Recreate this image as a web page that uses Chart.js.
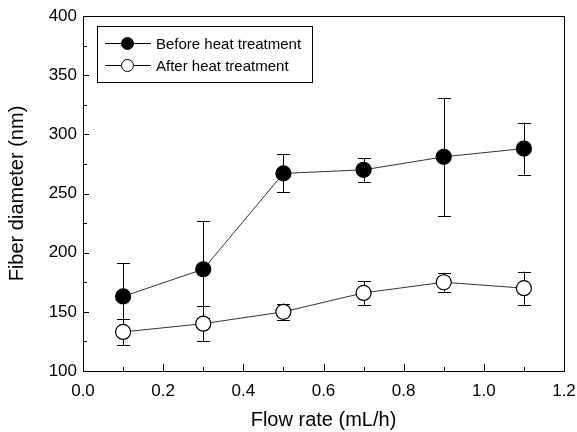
<!DOCTYPE html>
<html>
<head>
<meta charset="utf-8">
<script src="https://cdn.jsdelivr.net/npm/chart.js@4.4.1/dist/chart.umd.min.js"></script>
<style>
  html, body { margin: 0; padding: 0; background: #fff; }
</style>
</head>
<body>
<canvas id="chart" width="577" height="432"></canvas>
<script>
const flowRates = [0.1, 0.3, 0.5, 0.7, 0.9, 1.1];
const beforeMeans = [163, 186, 267, 270, 281, 288];
const beforeErrors = [28, 41, 16, 10, 50, 22];
const afterMeans = [133, 140, 150, 166, 175, 170];
const afterErrors = [11, 15, 7, 10, 8, 14];
const seriesLabels = ["Before heat treatment", "After heat treatment"];

const FONT = "'Liberation Sans', Arial, Helvetica, sans-serif";

// Error bars, drawn under the markers
const errorBars = {
  id: "errorBars",
  beforeDatasetsDraw(chart) {
    const { ctx, scales } = chart;
    const errs = [beforeErrors, afterErrors];
    ctx.save();
    ctx.strokeStyle = "#000";
    ctx.lineWidth = 1;
    chart.data.datasets.forEach((ds, d) => {
      ds.data.forEach((p, i) => {
        const x = Math.round(scales.x.getPixelForValue(p.x)) + 0.5;
        const yTop = scales.y.getPixelForValue(p.y + errs[d][i]);
        const yBot = scales.y.getPixelForValue(p.y - errs[d][i]);
        ctx.beginPath();
        ctx.moveTo(x, yTop);
        ctx.lineTo(x, yBot);
        ctx.moveTo(x - 6.5, Math.round(yTop) + 0.5);
        ctx.lineTo(x + 6.5, Math.round(yTop) + 0.5);
        ctx.moveTo(x - 6.5, Math.round(yBot) + 0.5);
        ctx.lineTo(x + 6.5, Math.round(yBot) + 0.5);
        ctx.stroke();
      });
    });
    ctx.restore();
  },
};

// Frame, inward ticks and the legend inside the plot
const frameAndLegend = {
  id: "frameAndLegend",
  afterDraw(chart) {
    const { ctx, chartArea: a, scales } = chart;
    ctx.save();
    ctx.strokeStyle = "#000";
    ctx.lineWidth = 1;
    ctx.strokeRect(Math.round(a.left) + 0.5, Math.round(a.top) + 0.5,
      Math.round(a.right - a.left), Math.round(a.bottom - a.top));

    ctx.beginPath();
    scales.x.ticks.forEach((t) => {
      const x = Math.round(scales.x.getPixelForValue(t.value)) + 0.5;
      const len = t.label ? 7 : 4;
      ctx.moveTo(x, a.bottom);
      ctx.lineTo(x, a.bottom - len);
    });
    scales.y.ticks.forEach((t) => {
      const y = Math.round(scales.y.getPixelForValue(t.value)) + 0.5;
      const len = t.label ? 6 : 4;
      ctx.moveTo(a.left, y);
      ctx.lineTo(a.left + len, y);
    });
    ctx.stroke();

    // legend
    ctx.strokeRect(97.5, 26.5, 215, 56);
    const rows = [43, 65];
    ctx.font = "15px " + FONT;
    ctx.textBaseline = "middle";
    ctx.fillStyle = "#000";
    chart.data.datasets.forEach((ds, d) => {
      const y = rows[d] + 0.5;
      ctx.beginPath();
      ctx.moveTo(105, y);
      ctx.lineTo(151, y);
      ctx.stroke();
      ctx.beginPath();
      ctx.arc(127.5, y, 6, 0, Math.PI * 2);
      ctx.fillStyle = ds.pointBackgroundColor;
      ctx.fill();
      ctx.stroke();
      ctx.fillStyle = "#000";
      ctx.fillText(ds.label, 156, y + 1);
    });
    ctx.restore();
  },
};

new Chart(document.getElementById("chart"), {
  type: "line",
  data: {
    datasets: [
      {
        label: seriesLabels[0],
        data: flowRates.map((x, i) => ({ x, y: beforeMeans[i] })),
        borderColor: "#333",
        borderWidth: 1,
        pointRadius: 7.5,
        pointBorderWidth: 1.2,
        pointBackgroundColor: "#000",
        pointBorderColor: "#000",
        fill: false,
      },
      {
        label: seriesLabels[1],
        data: flowRates.map((x, i) => ({ x, y: afterMeans[i] })),
        borderColor: "#333",
        borderWidth: 1,
        pointRadius: 7.5,
        pointBorderWidth: 1.2,
        pointBackgroundColor: "#fff",
        pointBorderColor: "#000",
        fill: false,
      },
    ],
  },
  options: {
    responsive: false,
    animation: false,
    events: [],
    layout: { padding: { top: 16, right: 13, left: 0, bottom: 0 } },
    plugins: { legend: { display: false }, tooltip: { enabled: false } },
    scales: {
      x: {
        type: "linear",
        min: 0,
        max: 1.2,
        grid: { display: false, drawTicks: false },
        border: { display: false },
        ticks: {
          stepSize: 0.1,
          autoSkip: false,
          maxRotation: 0,
          padding: 10,
          color: "#000",
          font: { size: 17, family: FONT },
          callback: (v) => {
            const k = Math.round(v * 10);
            return k % 2 === 0 ? (k / 10).toFixed(1) : "";
          },
        },
        title: {
          display: true,
          text: "Flow rate (mL/h)",
          color: "#000",
          font: { size: 20, family: FONT, lineHeight: 1.2 },
          padding: { top: 0, bottom: 0 },
        },
        afterFit: (s) => {
          s.height = 61;
          s.paddingLeft = 0;
          s.paddingRight = 0;
        },
      },
      y: {
        min: 100,
        max: 400,
        grid: { display: false, drawTicks: false },
        border: { display: false },
        ticks: {
          stepSize: 25,
          autoSkip: false,
          padding: 6,
          color: "#000",
          font: { size: 17, family: FONT },
          callback: (v) => (v % 50 === 0 ? String(v) : ""),
        },
        title: {
          display: true,
          text: "Fiber diameter (nm)",
          color: "#000",
          font: { size: 20, family: FONT, lineHeight: 1.2 },
          padding: { top: 5, bottom: 0 },
        },
        afterFit: (s) => {
          s.width = 83;
          s.paddingTop = 0;
          s.paddingBottom = 0;
        },
      },
    },
  },
  plugins: [errorBars, frameAndLegend],
});
</script>
</body>
</html>
